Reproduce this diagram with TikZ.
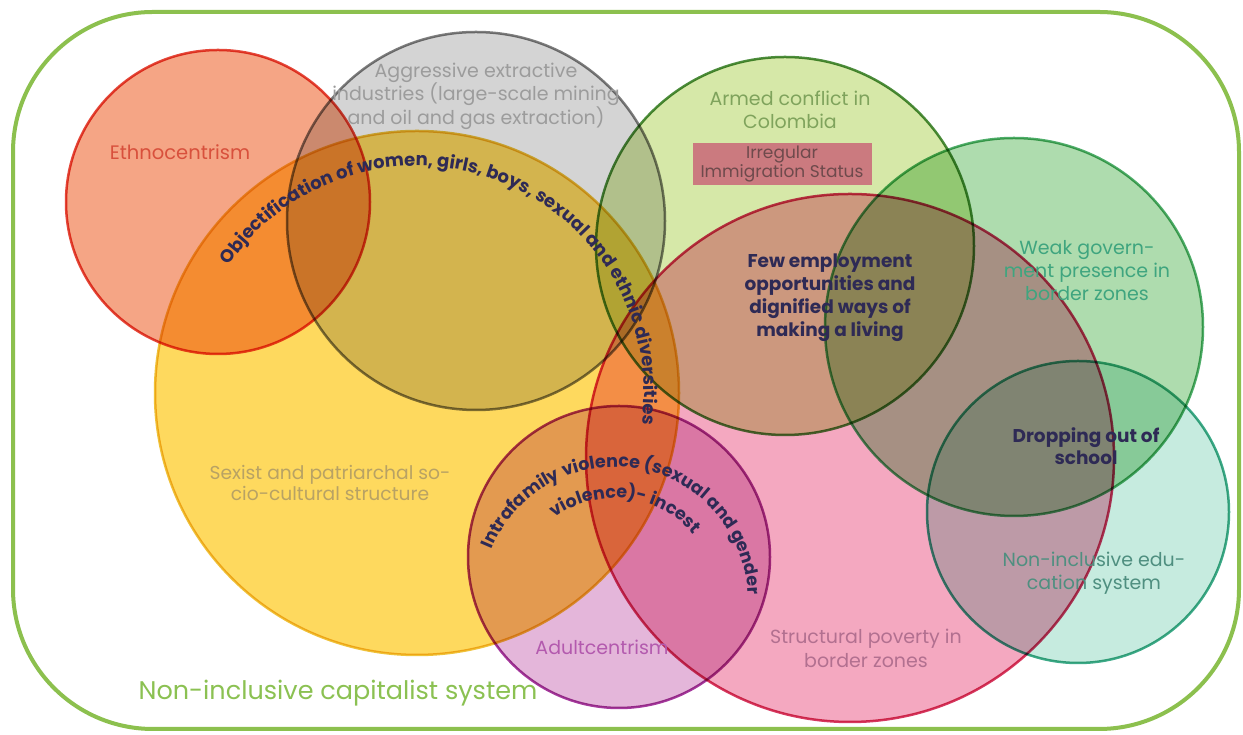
\documentclass[tikz,border=0pt]{standalone}
\usepackage{fontspec}
\setmainfont{Poppins}
\usetikzlibrary{decorations.text}
\definecolor{ethF}{HTML}{F5A585}\definecolor{ethD}{HTML}{E5483A}
\definecolor{gryF}{HTML}{D4D4D4}\definecolor{gryD}{HTML}{7E7E7E}
\definecolor{yelF}{HTML}{FED95E}\definecolor{yelD}{HTML}{EFC23A}
\definecolor{armF}{HTML}{D6E8A8}\definecolor{armD}{HTML}{4E8E3E}
\definecolor{pnkF}{HTML}{F4A8C0}\definecolor{pnkD}{HTML}{D63860}
\definecolor{wkF}{HTML}{AEDCAE}\definecolor{wkD}{HTML}{4FAE6A}
\definecolor{tealF}{HTML}{C6EBDF}\definecolor{tealD}{HTML}{3DAA88}
\definecolor{magF}{HTML}{E4B6DA}\definecolor{magD}{HTML}{A63A9E}
\definecolor{boxF}{HTML}{CB7A7F}
\definecolor{outerG}{HTML}{8CC04E}
\definecolor{navy}{HTML}{2E2A55}
\definecolor{ethT}{HTML}{D8503C}
\definecolor{gryT}{HTML}{9C9C9C}
\definecolor{armT}{HTML}{7FA35C}
\definecolor{boxT}{HTML}{6E4A4C}
\definecolor{wkT}{HTML}{3FA57F}
\definecolor{eduT}{HTML}{4F8F80}
\definecolor{povT}{HTML}{B27090}
\definecolor{adT}{HTML}{B35AAE}
\definecolor{sexT}{HTML}{B8A264}
\definecolor{capT}{HTML}{8BC152}
\newcommand{\curvfont}{\fontsize{18}{18}\selectfont\bfseries\color{navy}}
\newcommand{\curvfontb}{\fontsize{17.5}{17.5}\selectfont\bfseries\color{navy}}
\begin{document}
\begin{tikzpicture}[x=1pt,y=1pt,
  lbl/.style={font=\fontsize{19}{23.5}\selectfont, align=center, inner sep=0pt},
  bld/.style={font=\fontsize{18.5}{23}\selectfont\bfseries, text=navy, align=center, inner sep=0pt},
  venn/.style={line width=2.5pt}]
\useasboundingbox (0,0) rectangle (1243,735);
\fill[white] (0,0) rectangle (1243,735);
\draw[outerG, line width=4pt, rounded corners=140pt] (13,6) rectangle (1239,723);
\begin{scope}[blend mode=multiply]
  \filldraw[venn, fill=ethF, draw=ethD] (218,533) circle[radius=152];
  \filldraw[venn, fill=gryF, draw=gryD] (476,514) circle[radius=189];
  \filldraw[venn, fill=yelF, draw=yelD] (417,342) circle[radius=262];
  \filldraw[venn, fill=armF, draw=armD] (785,489) circle[radius=189];
  \filldraw[venn, fill=pnkF, draw=pnkD] (850,277) circle[radius=264];
  \filldraw[venn, fill=wkF, draw=wkD] (1014,408) circle[radius=189];
  \filldraw[venn, fill=tealF, draw=tealD] (1078,223) circle[radius=151];
  \filldraw[venn, fill=magF, draw=magD] (619,178) circle[radius=151];
\end{scope}
\fill[boxF] (693,550) rectangle (872,592);
\node[lbl, text=ethT, font=\fontsize{19.5}{23.5}\selectfont] (tEth) at (180,583) {Ethnocentrism};
\node[lbl, text=gryT] (tExt) at (476,639) {Aggressive extractive\\industries (large-scale mining\\and oil and gas extraction)};
\node[lbl, text=armT] (tArm) at (790,625) {Armed conflict in\\Colombia};
\node[lbl, text=boxT, font=\fontsize{17}{19}\selectfont] (tIrr) at (782,571) {Irregular\\Immigration Status};
\node[bld] (tEmp) at (830,437) {Few employment\\opportunities and\\dignified ways of\\making a living};
\node[lbl, text=wkT, font=\fontsize{19}{23}\selectfont] (tWeak) at (1087,464) {Weak govern-\\ment presence in\\border zones};
\node[bld, font=\fontsize{18.5}{22}\selectfont\bfseries] (tDrop) at (1086,289) {Dropping out of\\school};
\node[lbl, text=eduT, font=\fontsize{19}{23}\selectfont] (tEdu) at (1094,162) {Non-inclusive edu-\\cation system};
\node[lbl, text=povT, font=\fontsize{19}{24}\selectfont] (tPov) at (866,87) {Structural poverty in\\border zones};
\node[lbl, text=adT] (tAdu) at (602,88) {Adultcentrism};
\node[lbl, text=sexT, font=\fontsize{18.7}{21}\selectfont] (tSex) at (330,252) {Sexist and patriarchal so-\\cio-cultural structure};
\node[lbl, text=capT, font=\fontsize{25.5}{25.5}\selectfont] (tCap) at (338,42) {Non-inclusive capitalist system};
\path[decorate, decoration={text along path, text align=center,
  text={|\curvfont|Objectification of women, girls, boys, sexual and ethnic diversities}}]
  (417,342) ++(164:227) arc[start angle=164, end angle=-26, radius=227];
\path[decorate, decoration={text along path, text align=center,
  text={|\curvfontb|Intrafamily violence (sexual and gender}}]
  (615,135) ++(175:133) arc[start angle=175, end angle=-15, radius=133];
\path[decorate, decoration={text along path, text align=center,
  text={|\curvfontb|violence)- incest}}]
  (615,135) ++(160:102) arc[start angle=160, end angle=6, radius=102];
\end{tikzpicture}
\end{document}
